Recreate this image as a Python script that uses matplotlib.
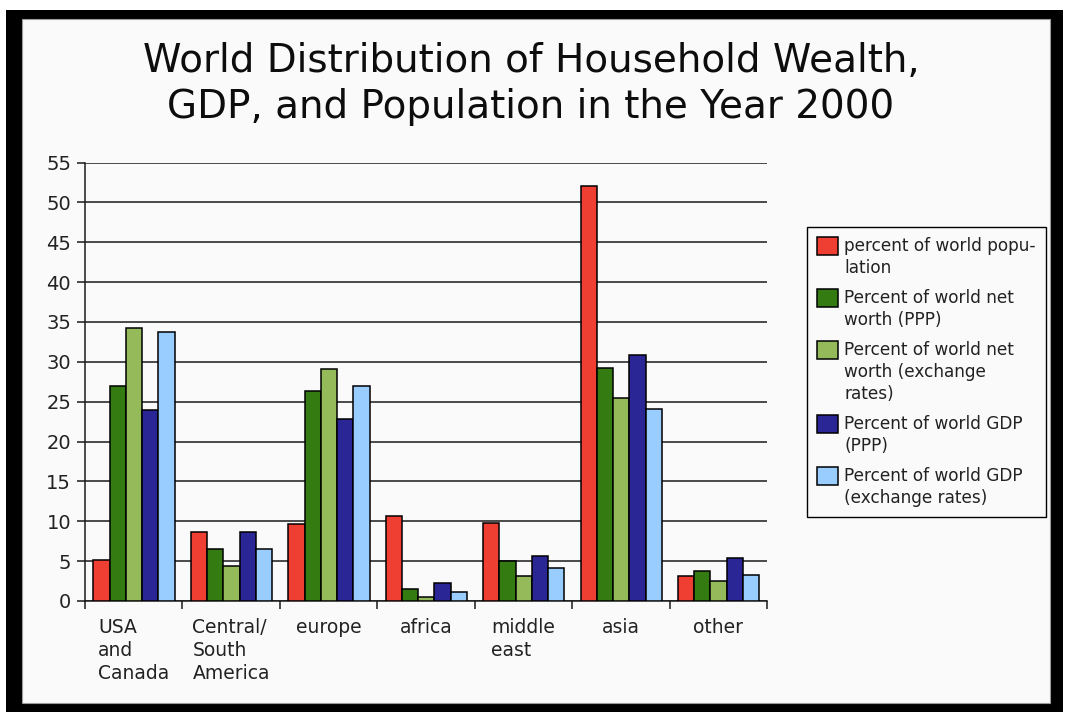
"""
World distribution of household wealth, GDP and population in 2000,
grouped bars per region (values read off the reference chart).
"""
import numpy as np
import matplotlib
matplotlib.use("Agg")
import matplotlib.pyplot as plt
from matplotlib.patches import Rectangle

regions = ["USA\nand\nCanada", "Central/\nSouth\nAmerica", "europe", "africa",
           "middle\neast", "asia", "other"]

population = [5.2, 8.6, 9.6, 10.6, 9.8, 52.1, 3.1]
net_worth_ppp = [27.0, 6.5, 26.4, 1.5, 5.0, 29.2, 3.8]
net_worth_fx = [34.2, 4.4, 29.1, 0.5, 3.1, 25.5, 2.5]
gdp_ppp = [23.9, 8.6, 22.8, 2.3, 5.6, 30.9, 5.4]
gdp_fx = [33.7, 6.5, 27.0, 1.1, 4.2, 24.1, 3.3]

series_labels = [
    "percent of world popu-\nlation",
    "Percent of world net\nworth (PPP)",
    "Percent of world net\nworth (exchange\nrates)",
    "Percent of world GDP\n(PPP)",
    "Percent of world GDP\n(exchange rates)",
]
series_colors = ["#ef3f32", "#347c12", "#95ba5a", "#2a2696", "#99ccff"]

W, H = 1066, 712
fig = plt.figure(figsize=(W / 100, H / 100), dpi=100)
fig.patch.set_facecolor("white")

# black picture frame with the light canvas inside
fig.patches.append(Rectangle((6 / W, 0), (1063 - 6) / W, (H - 10) / H,
                             transform=fig.transFigure, facecolor="black",
                             edgecolor="none", zorder=-10))
fig.patches.append(Rectangle((22 / W, 9 / H), (1050 - 22) / W, (703 - 19) / H,
                             transform=fig.transFigure, facecolor="#fafafa",
                             edgecolor="#9a9a9a", linewidth=0.8, zorder=-9))

ax = fig.add_axes([85 / W, 1 - 601 / H, (767 - 85) / W, (601 - 162.5) / H])
ax.set_facecolor("none")

all_series = [population, net_worth_ppp, net_worth_fx, gdp_ppp, gdp_fx]
x = np.arange(len(regions))
bar_w = 0.167
start = 0.086
for k, (vals, lab, col) in enumerate(zip(all_series, series_labels, series_colors)):
    ax.bar(x + start + k * bar_w, vals, width=bar_w, align="edge", color=col,
           edgecolor="black", linewidth=1.1, label=lab, zorder=3)

ax.set_xlim(0, len(regions))
ax.set_ylim(0, 55)
ax.set_yticks(np.arange(0, 56, 5))
ax.yaxis.grid(True, color="#1a1a1a", linewidth=1.1, zorder=0)
ax.set_axisbelow(True)

# category boundaries get the tick marks, names sit at the centres
ax.set_xticks(np.arange(len(regions) + 1))
ax.set_xticklabels([])
ax.set_xticks(x + 0.5, minor=True)
ax.set_xticklabels(regions, minor=True, fontsize=13.5, color="#222222",
                   ha="center", multialignment="left", linespacing=1.27)
ax.tick_params(axis="x", which="major", direction="out", length=6, width=1.1,
               color="#1a1a1a")
ax.tick_params(axis="x", which="minor", length=0, pad=12)
ax.tick_params(axis="y", direction="out", length=6, width=1.1, color="#1a1a1a",
               pad=4, labelsize=14, labelcolor="#222222")

for side in ["top", "right"]:
    ax.spines[side].set_visible(False)
ax.spines["left"].set_color("#1a1a1a")
ax.spines["left"].set_linewidth(1.1)
ax.spines["bottom"].set_color("#1a1a1a")
ax.spines["bottom"].set_linewidth(1.1)

fig.text(531 / W, 1 - 84 / H,
         "World Distribution of Household Wealth,\nGDP, and Population in the Year 2000",
         ha="center", va="center", multialignment="center", fontsize=28,
         color="#0d0d0d", linespacing=1.27)

leg = ax.legend(loc="upper left", bbox_to_anchor=(807 / W, 1 - 227 / H),
                bbox_transform=fig.transFigure, fontsize=12.2, frameon=True,
                fancybox=False, shadow=False, framealpha=1, facecolor="#fafafa",
                edgecolor="black", handlelength=1.25, handleheight=1.25,
                handletextpad=0.35, labelspacing=0.72, borderpad=0.6,
                borderaxespad=0)
leg.get_frame().set_linewidth(1.0)
for t in leg.get_texts():
    t.set_color("#222222")
    t.set_linespacing(1.27)
# put each swatch next to the first line of its label
for column in leg._legend_handle_box.get_children():
    for entry in column.get_children():
        entry.align = "top"

fig.savefig("out.png", dpi=100, facecolor=fig.get_facecolor())
plt.close(fig)
